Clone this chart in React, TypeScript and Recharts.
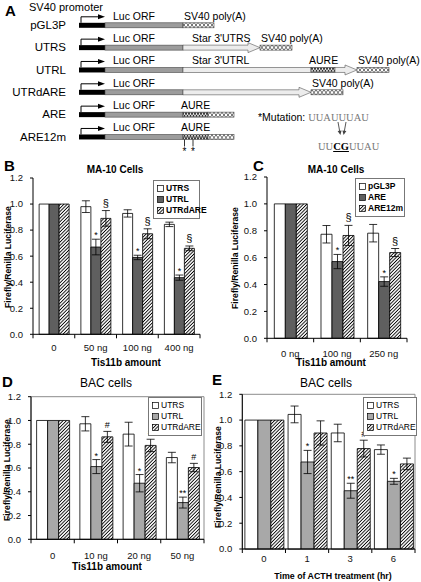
import React from 'react';
import { BarChart, Bar, XAxis, YAxis, ErrorBar, LabelList, Legend, ReferenceArea } from 'recharts';

const FONT = "Arial, 'Liberation Sans', Helvetica, sans-serif";

// ---- A: construct maps (segment lengths in map units) ----
const constructs = ['pGL3P', 'UTRS', 'UTRL', 'UTRdARE', 'ARE', 'ARE12m'];
const promLen = [26, 26, 26, 26, 26, 26];
const lucLen = [78, 78, 78, 78, 78, 78];
const utrLen = [0, 77, 128, 128, 0, 0];
const aureLen = [0, 0, 24, 0, 25, 25];
const tailLen = [0, 0, 22, 0, 0, 0];
const sv40Len = [31, 32, 32, 32, 26, 26];
const utrLabels = ['', "Star 3'UTRS", "Star 3'UTRL", '', '', ''];
const aureLabels = ['', '', 'AURE', '', 'AURE', 'AURE'];
const sv40Labels = ['SV40 poly(A)', 'SV40 poly(A)', 'SV40 poly(A)', 'SV40 poly(A)', '', ''];
const utrArrow = [false, true, false, true, false, false];
const mutated = [false, false, false, false, false, true];

// ---- B: MA-10, Star 3'UTR constructs ----
const bCats = ['0', '50 ng', '100 ng', '400 ng'];
const bUtrs = [1.0, 0.98, 0.928, 0.844];
const bUtrsErr = [0, 0.045, 0.028, 0.017];
const bUtrl = [1.0, 0.67, 0.59, 0.435];
const bUtrlErr = [0, 0.06, 0.017, 0.02];
const bDare = [1.0, 0.89, 0.772, 0.66];
const bDareErr = [0, 0.06, 0.038, 0.018];
const bUtrlMarks = ['', '*', '*', '*'];
const bDareMarks = ['', '§', '§', '§'];

// ---- C: MA-10, ARE constructs ----
const cCats = ['0 ng', '100 ng', '250 ng'];
const cPgl = [1.0, 0.774, 0.782];
const cPglErr = [0, 0.065, 0.065];
const cAre = [1.0, 0.571, 0.422];
const cAreErr = [0, 0.053, 0.035];
const cAre12 = [1.0, 0.765, 0.638];
const cAre12Err = [0, 0.075, 0.03];
const cAreMarks = ['', '*', '*'];
const cAre12Marks = ['', '§', '§'];

// ---- D: BAC, Tis11b ----
const dCats = ['0', '10 ng', '20 ng', '50 ng'];
const dUtrs = [1.0, 0.972, 0.885, 0.688];
const dUtrsErr = [0, 0.06, 0.1, 0.044];
const dUtrl = [1.0, 0.612, 0.472, 0.309];
const dUtrlErr = [0, 0.059, 0.073, 0.046];
const dDare = [1.0, 0.862, 0.79, 0.604];
const dDareErr = [0, 0.046, 0.052, 0.035];
const dUtrlMarks = ['', '*', '*', '**'];
const dDareMarks = ['', '#', '#', '#'];

// ---- E: BAC, ACTH time course ----
const eCats = ['0', '1', '3', '6'];
const eUtrs = [1.0, 1.044, 0.9, 0.771];
const eUtrsErr = [0, 0.065, 0.068, 0.036];
const eUtrl = [1.0, 0.675, 0.452, 0.525];
const eUtrlErr = [0, 0.09, 0.058, 0.023];
const eDare = [1.0, 0.9, 0.779, 0.66];
const eDareErr = [0, 0.094, 0.065, 0.045];
const eUtrlMarks = ['', '*', '**', '*'];
const eDareMarks = ['', '', '#', ''];

const yTicks = [0, 0.2, 0.4, 0.6, 0.8, 1.0, 1.2];
const yDomain: [number, number] = [0, 1.2];
const noMarks = (n: number) => Array.from({ length: n }, () => '');
const fmtY = (v: number) => v.toFixed(1);

type Series = { name: string; values: number[]; errors: number[]; marks: string[]; fill: string };
type PanelCfg = {
  left: number; top: number; width: number; height: number;
  margin: { top: number; right: number; bottom: number; left: number };
  yWidth: number; gap: string; catMargin: number; frame: boolean;
  cats: string[]; series: Series[];
  legend: { left: number; top: number; width: number; bold: boolean };
};

const markShift: Record<string, number> = { '*': 0, '**': 0, '§': 3, '#': 2 };

const renderMark = (p: any) => {
  const raw = String(p.value ?? '');
  if (!raw) return null;
  const vb = p.viewBox ?? p;
  const [mark, err, val] = raw.split('|');
  const perUnit = vb.height / Number(val);
  const top = vb.y - Number(err) * perUnit;
  return (
    <text x={vb.x + vb.width / 2} y={top - 1 - (markShift[mark] ?? 0)} textAnchor="middle"
      fontSize={mark === '§' ? 11 : 9} fontFamily={FONT} fill="#000">{mark}</text>
  );
};

function LegendBox({ payload, names, bold }: { payload: any[]; names: string[]; bold: boolean }) {
  const items = names.map(n => (payload || []).find((e: any) => e.value === n)).filter(Boolean);
  return (
    <div style={{ border: '1px solid #777', background: '#fff', padding: '2px 3px', fontFamily: FONT }}>
      {items.map((e: any) => (
        <div key={e.value} style={{ display: 'flex', alignItems: 'center', height: 11 }}>
          <svg width={7} height={7} style={{ flex: 'none' }}>
            <rect x={0.5} y={0.5} width={6} height={6} fill={e.color} stroke="#000" strokeWidth={0.7} />
          </svg>
          <span style={{ marginLeft: 2, fontSize: 8.5, fontWeight: bold ? 700 : 400, color: '#000', lineHeight: '11px' }}>{e.value}</span>
        </div>
      ))}
    </div>
  );
}

// category tick: label under the band centre, tick marks on the band edges (Excel style)
const makeCatTick = (half: number, n: number, gap: number) => (p: any) => {
  const { x, y, payload, index } = p;
  const h = payload && typeof payload.offset === 'number' && payload.offset > 0 ? payload.offset : half;
  return (
    <g>
      <line x1={x - h} y1={y} x2={x - h} y2={y + 4} stroke="#000" strokeWidth={1} />
      {index === n - 1 && <line x1={x + h} y1={y} x2={x + h} y2={y + 4} stroke="#000" strokeWidth={1} />}
      <text x={x} y={y + gap} dy="0.71em" textAnchor="middle" fontSize={9.5} fill="#111" fontFamily={FONT}>
        {payload.value}
      </text>
    </g>
  );
};

const yTick = { fontSize: 9.5, fill: '#111', fontFamily: FONT };
const blackLine = { stroke: '#000' };

function GroupedPanel({ cfg }: { cfg: PanelCfg }) {
  const n = cfg.cats.length;
  const rows = cfg.cats.map((cat, i) => {
    const r: Record<string, string | number> = { cat };
    cfg.series.forEach((s, k) => {
      r[`v${k}`] = s.values[i];
      r[`e${k}`] = s.errors[i];
      r[`m${k}`] = s.marks[i] ? `${s.marks[i]}|${s.errors[i]}|${s.values[i]}` : '';
    });
    return r;
  });
  const names = cfg.series.map(s => s.name);
  const plotW = cfg.width - cfg.margin.left - cfg.margin.right - cfg.yWidth;
  const tickFn = makeCatTick(plotW / n / 2, n, cfg.catMargin);
  return (
    <div style={{ position: 'absolute', left: cfg.left, top: cfg.top }}>
      <BarChart width={cfg.width} height={cfg.height} data={rows} margin={cfg.margin}
        barCategoryGap={cfg.gap} barGap={0}>
        {cfg.frame && (
          <ReferenceArea y1={0} y2={1.2} fill="none" stroke="#8c8c8c" strokeWidth={1} fillOpacity={0} />
        )}
        <XAxis dataKey="cat" axisLine={blackLine} tickLine={false} tickSize={0} tickMargin={0}
          height={20} interval={0} tick={tickFn} />
        <YAxis domain={yDomain} ticks={yTicks} tickFormatter={fmtY} width={cfg.yWidth}
          tickSize={3} tickMargin={7} interval={0} axisLine={blackLine} tickLine={blackLine} tick={yTick} />
        <Legend layout="horizontal" align="center" verticalAlign="middle"
          wrapperStyle={{ left: cfg.legend.left, top: cfg.legend.top, width: cfg.legend.width }}
          content={(p: any) => <LegendBox payload={p.payload} names={names} bold={cfg.legend.bold} />} />
        {cfg.series.map((s, k) => (
          <Bar key={s.name} dataKey={`v${k}`} name={s.name} fill={s.fill} stroke="#000"
            strokeWidth={0.8} isAnimationActive={false}>
            <ErrorBar dataKey={`e${k}`} width={4} stroke="#000" strokeWidth={0.8} direction="y" />
            <LabelList dataKey={`m${k}`} content={renderMark} />
          </Bar>
        ))}
      </BarChart>
    </div>
  );
}

// ---- construct map shapes ----
const segStroke = '#444';

const promShape = (p: any) => {
  const { x, y, width, height } = p;
  if (!width || width <= 0) return null;
  const ay = y - 6;
  return (
    <g>
      <rect x={x} y={y} width={width} height={height} fill="#000" />
      <path d={`M${x + 2},${y} V${ay} H${x + 20}`} stroke="#000" strokeWidth={1} fill="none" />
      <path d={`M${x + 19},${ay - 2.5} L${x + 26},${ay} L${x + 19},${ay + 2.5} Z`} fill="#000" />
    </g>
  );
};

const plainSeg = (fill: string) => (p: any) => {
  const { x, y, width, height } = p;
  if (!width || width <= 0) return null;
  return <rect x={x} y={y} width={width} height={height} fill={fill} stroke={segStroke} strokeWidth={0.6} />;
};

const arrowSeg = (always: boolean) => (p: any) => {
  const { x, y, width, height, payload } = p;
  if (!width || width <= 0) return null;
  const isArrow = always || (payload && payload.utrArrow);
  if (!isArrow) {
    return <rect x={x} y={y} width={width} height={height} fill="#ececec" stroke="#555" strokeWidth={0.6} />;
  }
  const head = 12;
  const bx = x + width - head;
  const d = `M${x},${y} H${bx} V${y - 2.5} L${x + width},${y + height / 2} L${bx},${y + height + 2.5} V${y + height} H${x} Z`;
  return <path d={d} fill="#ececec" stroke="#555" strokeWidth={0.6} />;
};

const aureShape = (p: any) => {
  const { x, y, width, height, payload } = p;
  if (!width || width <= 0) return null;
  const mut = payload && payload.mutated;
  return (
    <g>
      <rect x={x} y={y} width={width} height={height} fill="url(#aure)" stroke={segStroke} strokeWidth={0.6} />
      {mut && (
        <g>
          <line x1={x + 1.5} y1={y + height} x2={x + 1.5} y2={y + height + 7} stroke="#000" strokeWidth={0.8} />
          <line x1={x + 10} y1={y + height} x2={x + 10} y2={y + height + 7} stroke="#000" strokeWidth={0.8} />
          <text x={x + 1.5} y={y + height + 16} textAnchor="middle" fontSize={10} fontFamily={FONT}>*</text>
          <text x={x + 10} y={y + height + 16} textAnchor="middle" fontSize={10} fontFamily={FONT}>*</text>
        </g>
      )}
    </g>
  );
};

const segLabel = (dx: number) => (p: any) => {
  if (!p.value) return null;
  const vb = p.viewBox ?? p;
  return (
    <text x={vb.x + dx} y={vb.y - 3} fontSize={10.5} fontFamily={FONT} fill="#000">{p.value}</text>
  );
};

const mapDomain: [number, number] = [0, 340];
const mapTick = { fontSize: 11.5, fill: '#000', fontFamily: FONT };

function ConstructMap() {
  const rows = constructs.map((name, i) => ({
    name,
    prom: promLen[i], luc: lucLen[i], utr: utrLen[i], aure: aureLen[i], tail: tailLen[i], sv40: sv40Len[i],
    lucLabel: 'Luc ORF', utrLabel: utrLabels[i], aureLabel: aureLabels[i], sv40Label: sv40Labels[i],
    utrArrow: utrArrow[i], mutated: mutated[i],
  }));
  return (
    <div style={{ position: 'absolute', left: 0, top: 0 }}>
      <BarChart layout="vertical" width={421} height={160} data={rows}
        margin={{ top: 13.8, right: 2, bottom: 12.2, left: 0 }}>
        <XAxis type="number" domain={mapDomain} hide />
        <YAxis type="category" dataKey="name" width={79} axisLine={false} tickLine={false} tickMargin={7}
          tick={mapTick} interval={0} />
        <Bar dataKey="prom" stackId="m" barSize={5} shape={promShape} isAnimationActive={false} />
        <Bar dataKey="luc" stackId="m" barSize={5} shape={plainSeg('url(#luc)')} isAnimationActive={false}>
          <LabelList dataKey="lucLabel" content={segLabel(8)} />
        </Bar>
        <Bar dataKey="utr" stackId="m" barSize={5} shape={arrowSeg(false)} isAnimationActive={false}>
          <LabelList dataKey="utrLabel" content={segLabel(9)} />
        </Bar>
        <Bar dataKey="aure" stackId="m" barSize={5} shape={aureShape} isAnimationActive={false}>
          <LabelList dataKey="aureLabel" content={segLabel(-2)} />
        </Bar>
        <Bar dataKey="tail" stackId="m" barSize={5} shape={arrowSeg(true)} isAnimationActive={false} />
        <Bar dataKey="sv40" stackId="m" barSize={5} shape={plainSeg('url(#sv40)')} isAnimationActive={false}>
          <LabelList dataKey="sv40Label" content={segLabel(1)} />
        </Bar>
      </BarChart>
    </div>
  );
}

const hatch = 'url(#hatch)';

const panels: PanelCfg[] = [
  {
    left: 0, top: 168, width: 205, height: 200, margin: { top: 10, right: 5, bottom: 13.7, left: 0 },
    yWidth: 33, gap: '14.7%', catMargin: 10, frame: false, cats: bCats,
    series: [
      { name: 'UTRS', values: bUtrs, errors: bUtrsErr, marks: noMarks(4), fill: '#fff' },
      { name: 'UTRL', values: bUtrl, errors: bUtrlErr, marks: bUtrlMarks, fill: '#5f5f5f' },
      { name: 'UTRdARE', values: bDare, errors: bDareErr, marks: bDareMarks, fill: hatch },
    ],
    legend: { left: 153, top: 12, width: 47, bold: true },
  },
  {
    left: 210, top: 167, width: 200, height: 200, margin: { top: 10, right: 3, bottom: 8.7, left: 0 },
    yWidth: 57, gap: '15.7%', catMargin: 11.5, frame: false, cats: cCats,
    series: [
      { name: 'pGL3P', values: cPgl, errors: cPglErr, marks: noMarks(3), fill: '#fff' },
      { name: 'ARE', values: cAre, errors: cAreErr, marks: cAreMarks, fill: '#5f5f5f' },
      { name: 'ARE12m', values: cAre12, errors: cAre12Err, marks: cAre12Marks, fill: hatch },
    ],
    legend: { left: 145, top: 11, width: 50, bold: true },
  },
  {
    left: 0, top: 387, width: 210, height: 175, margin: { top: 9.7, right: 6, bottom: 2.7, left: 0 },
    yWidth: 31, gap: '13%', catMargin: 13, frame: true, cats: dCats,
    series: [
      { name: 'UTRS', values: dUtrs, errors: dUtrsErr, marks: noMarks(4), fill: '#fff' },
      { name: 'UTRL', values: dUtrl, errors: dUtrlErr, marks: dUtrlMarks, fill: '#a8a8a8' },
      { name: 'UTRdARE', values: dDare, errors: dDareErr, marks: dDareMarks, fill: hatch },
    ],
    legend: { left: 148, top: 10, width: 54, bold: false },
  },
  {
    left: 210, top: 385, width: 211, height: 190, margin: { top: 9.3, right: 6, bottom: 6, left: 0 },
    yWidth: 32.3, gap: '6%', catMargin: 6, frame: true, cats: eCats,
    series: [
      { name: 'UTRS', values: eUtrs, errors: eUtrsErr, marks: noMarks(4), fill: '#fff' },
      { name: 'UTRL', values: eUtrl, errors: eUtrlErr, marks: eUtrlMarks, fill: '#a8a8a8' },
      { name: 'UTRdARE', values: eDare, errors: eDareErr, marks: eDareMarks, fill: hatch },
    ],
    legend: { left: 153, top: 12, width: 54, bold: false },
  },
];

const txt = (left: number, cy: number, size: number, text: React.ReactNode, extra: React.CSSProperties = {}) => (
  <div style={{ position: 'absolute', left, top: cy - size / 2, fontSize: size, lineHeight: `${size}px`, whiteSpace: 'nowrap', ...extra }}>
    {text}
  </div>
);

const ctxt = (cx: number, cy: number, size: number, text: string, extra: React.CSSProperties = {}) => (
  <div style={{ position: 'absolute', left: cx - 100, width: 200, textAlign: 'center', top: cy - size / 2, fontSize: size, lineHeight: `${size}px`, whiteSpace: 'nowrap', ...extra }}>
    {text}
  </div>
);

const yTitle = (cx: number, cy: number) => (
  <div style={{ position: 'absolute', left: cx - 70, top: cy - 5, width: 140, textAlign: 'center', fontSize: 8.6, lineHeight: '10px', fontWeight: 700, transform: 'rotate(-90deg)', whiteSpace: 'nowrap' }}>
    Firefly/Renilla Luciferase
  </div>
);

const serif: React.CSSProperties = { fontFamily: "'Liberation Serif', serif", color: '#777' };

export default function App() {
  return (
    <div style={{ position: 'absolute', left: 0, top: 0, width: 421, height: 582, background: '#fff', fontFamily: FONT, color: '#000', overflow: 'hidden' }}>
      <svg width={0} height={0} style={{ position: 'absolute' }}>
        <defs>
          <pattern id="hatch" width={2.4} height={2.4} patternUnits="userSpaceOnUse" patternTransform="rotate(45)">
            <rect width={2.4} height={2.4} fill="#fff" />
            <line x1={1.2} y1={0} x2={1.2} y2={2.4} stroke="#000" strokeWidth={0.9} />
          </pattern>
          <pattern id="luc" width={1.8} height={1.8} patternUnits="userSpaceOnUse" patternTransform="rotate(45)">
            <rect width={1.8} height={1.8} fill="#eee" />
            <line x1={0.9} y1={0} x2={0.9} y2={1.8} stroke="#333" strokeWidth={0.8} />
          </pattern>
          <pattern id="sv40" width={4} height={5} patternUnits="userSpaceOnUse">
            <rect width={4} height={5} fill="#fff" />
            <path d="M0,0 L4,5 M4,0 L0,5" stroke="#444" strokeWidth={0.8} />
          </pattern>
          <pattern id="aure" width={3} height={5} patternUnits="userSpaceOnUse">
            <rect width={3} height={5} fill="#ddd" />
            <path d="M0,5 L1.5,0 L3,5" stroke="#222" strokeWidth={0.9} fill="none" />
          </pattern>
        </defs>
      </svg>

      {/* A */}
      {txt(5, 10, 15, 'A', { fontWeight: 700 })}
      {txt(29, 7, 11, 'SV40 promoter')}
      <ConstructMap />
      {txt(258, 117, 10.5, <span>*Mutation: <span style={serif}>UUAUUUAU</span></span>)}
      <svg width={20} height={16} style={{ position: 'absolute', left: 333, top: 121 }}>
        <path d="M5,1 L7,12 M13,1 L11,12" stroke="#444" strokeWidth={0.9} fill="none" />
        <path d="M4.6,10 L7.4,14 L8.6,9.6 Z M9.4,9.6 L10.6,14 L13.4,10 Z" fill="#444" />
      </svg>
      {txt(318, 146, 10.5, <span style={serif}>UU<b style={{ color: '#000', textDecoration: 'underline' }}>CG</b>UUAU</span>)}

      {/* B / C */}
      {txt(4, 165, 15, 'B', { fontWeight: 700 })}
      {ctxt(115, 170, 10, 'MA-10 Cells', { fontWeight: 700 })}
      {yTitle(8, 257)}
      {ctxt(126, 363, 10, 'Tis11b amount', { fontWeight: 700 })}
      <GroupedPanel cfg={panels[0]} />

      {txt(253, 165, 15, 'C', { fontWeight: 700 })}
      {ctxt(336, 170, 10, 'MA-10 Cells', { fontWeight: 700 })}
      {yTitle(235, 258)}
      {ctxt(331, 363, 10, 'Tis11b amount', { fontWeight: 700 })}
      <GroupedPanel cfg={panels[1]} />

      {/* D / E */}
      {txt(2, 381, 15, 'D', { fontWeight: 700 })}
      {ctxt(106, 383, 12, 'BAC cells')}
      {yTitle(7, 470)}
      {ctxt(107, 567, 10, 'Tis11b amount', { fontWeight: 700 })}
      <GroupedPanel cfg={panels[2]} />

      {txt(212, 379, 15, 'E', { fontWeight: 700 })}
      {ctxt(326, 383, 12, 'BAC cells')}
      {yTitle(218, 477)}
      {ctxt(333, 576, 8.8, 'Time of ACTH treatment (hr)', { fontWeight: 700 })}
      <GroupedPanel cfg={panels[3]} />
    </div>
  );
}
